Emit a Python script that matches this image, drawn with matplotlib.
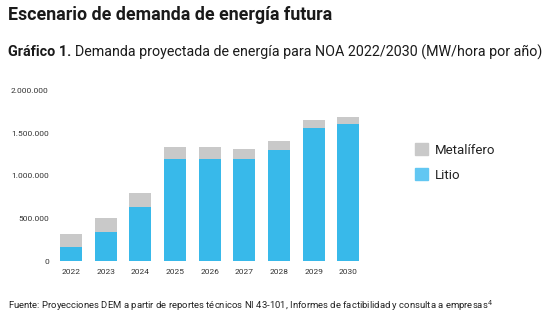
import matplotlib
matplotlib.use("Agg")
import numpy as np
from matplotlib import pyplot as plt
from matplotlib.patches import Patch
from matplotlib.ticker import FuncFormatter

plt.rcParams['font.family'] = ['Roboto', 'DejaVu Sans']

years = ['2022', '2023', '2024', '2025', '2026', '2027', '2028', '2029', '2030']
litio = [170000, 350000, 640000, 1195000, 1195000, 1195000, 1308000, 1558000, 1605000]
total = [320000, 510000, 800000, 1340000, 1340000, 1315000, 1409000, 1655000, 1686000]
metalifero = [t - l for t, l in zip(total, litio)]

blue = '#38b9ea'
grey = '#c9c9c9'

fig = plt.figure(figsize=(5.55, 3.21), dpi=100)
ax = fig.add_axes([0.0905, 0.1854, 0.5746, 0.5327])

x = np.arange(len(years))
ax.bar(x, litio, width=0.635, color=blue)
ax.bar(x, metalifero, width=0.635, bottom=litio, color=grey)

ax.set_xlim(-0.6, 8.6)
ax.set_ylim(0, 2000000)
ax.set_yticks([0, 500000, 1000000, 1500000, 2000000])
ax.yaxis.set_major_formatter(FuncFormatter(lambda v, p: f'{int(v):,}'.replace(',', '.')))
ax.set_xticks(x, years)
ax.tick_params(axis='both', length=0, labelsize=6, labelcolor='#333333')
ax.tick_params(axis='y', pad=1)
ax.tick_params(axis='x', pad=5.5)
for s in ax.spines.values():
    s.set_visible(False)

handles = [Patch(color=grey, label='Metalífero'), Patch(color='#62c7f2', label='Litio')]
fig.legend(handles=handles, loc='upper left', bbox_to_anchor=(0.726, 0.59),
           frameon=False, fontsize=9.5, handlelength=1.0, handleheight=1.0,
           handletextpad=0.5, labelspacing=0.85, labelcolor='#222222')

fig.text(0.014, 0.952, 'Escenario de demanda de energía futura', fontsize=12.8,
         fontweight='bold', color='#1a1a1a', va='center')
t1 = fig.text(0.014, 0.838, 'Gráfico 1.', fontsize=10.4, fontweight='bold',
              color='#1a1a1a', va='center')
fig.canvas.draw()
bb = t1.get_window_extent()
fig.text(bb.x1 / fig.bbox.width + 0.007, 0.838,
         'Demanda proyectada de energía para NOA 2022/2030 (MW/hora por año)',
         fontsize=10.3, color='#1a1a1a', va='center')

fig.text(0.014, 0.047,
         'Fuente: Proyecciones DEM a partir de reportes técnicos NI 43-101, '
         'Informes de factibilidad y consulta a empresas$^{4}$',
         fontsize=6.8, color='#222222', va='center')

fig.savefig('out.png', dpi=100)
